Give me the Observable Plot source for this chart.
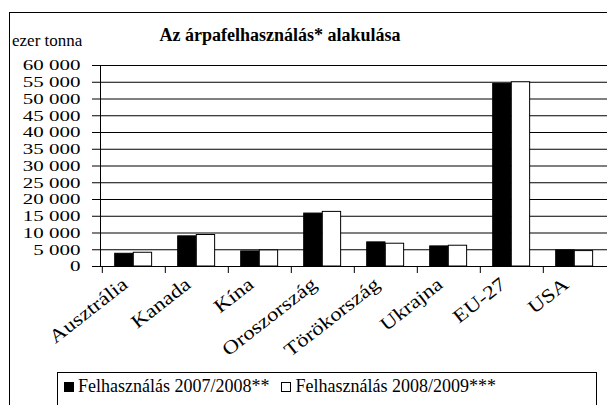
<!DOCTYPE html>
<html>
<head>
<meta charset="utf-8">
<script src="https://cdn.jsdelivr.net/npm/d3@7"></script>
<script src="https://cdn.jsdelivr.net/npm/@observablehq/plot@0.6"></script>
<style>
  html, body { margin: 0; padding: 0; background: #fff; }
  #wrap { position: relative; width: 607px; height: 405px; overflow: hidden; font-family: "Liberation Serif", "Times New Roman", "DejaVu Serif", serif; color: #000; }
  #border { position: absolute; left: 9px; top: 12px; width: 700px; height: 500px; border: 1px solid #000; box-sizing: border-box; }
  #title { position: absolute; left: 0; width: 560px; top: 25px; text-align: center; font-weight: bold; font-size: 18px; font-family: "Liberation Serif", "Times New Roman", serif; }
  #unit { position: absolute; left: 12px; top: 31px; font-size: 17px; font-family: "Liberation Serif", "Times New Roman", serif; }
  #chart { position: absolute; left: 0; top: 0; }
  #chart svg, #chart svg text { font-family: "Liberation Serif", "Times New Roman", serif !important; }
  #legend { position: absolute; left: 57px; top: 372px; width: 540px; height: 40px; border: 1px solid #000; box-sizing: border-box; display: flex; align-items: flex-start; padding: 3px 0 0 6px; font-size: 18px; white-space: nowrap; font-family: "Liberation Serif", "Times New Roman", serif; }
  .item { display: flex; align-items: center; margin-right: 12px; }
  .sw { width: 10px; height: 10px; border: 1px solid #000; box-sizing: border-box; margin-right: 4px; }
</style>
</head>
<body>
<div id="wrap">
  <div id="border"></div>
  <div id="chart"></div>
  <div id="title">Az árpafelhasználás* alakulása</div>
  <div id="unit">ezer tonna</div>
  <div id="legend"></div>
</div>
<script>
const countries = ["Ausztrália", "Kanada", "Kína", "Oroszország", "Törökország", "Ukrajna", "EU-27", "USA"];
const seriesNames = ["Felhasználás 2007/2008**", "Felhasználás 2008/2009***"];
const use2007 = [3800, 9000, 4500, 15800, 7200, 6000, 54500, 4800];
const use2008 = [4100, 9400, 4800, 16300, 6800, 6200, 55000, 4600];
const yTicks = [0, 5000, 10000, 15000, 20000, 25000, 30000, 35000, 40000, 45000, 50000, 55000, 60000];
const seriesFill = ["#000", "#fff"];

const rows = [];
countries.forEach((c, i) => {
  rows.push({country: c, series: seriesNames[0], value: use2007[i]});
  rows.push({country: c, series: seriesNames[1], value: use2008[i]});
});

const W = 607, H = 340, ML = 100, MR = 0, MT = 65, MB = 74;
const step = (W - ML - MR) / countries.length;
const fmt = d => d3.format(",")(d).replace(/,/g, " ");
const FONT = "Liberation Serif";

const chart = Plot.plot({
  width: W, height: H,
  marginLeft: ML, marginRight: MR, marginTop: MT, marginBottom: MB,
  style: {fontFamily: FONT, fontSize: "17px", color: "#000", background: "transparent", overflow: "visible"},
  x: {domain: countries, padding: 0, axis: null},
  y: {domain: [0, 60000], axis: null},
  marks: [
    Plot.ruleY(yTicks, {stroke: "#000", strokeWidth: 1}),
    Plot.frame({anchor: "left", stroke: "#000"}),
    Plot.ruleX(countries, {x: d => d, dx: -step / 2, insetTop: H - MT - MB, insetBottom: -7, stroke: "#000"}),
    Plot.axisY({ticks: yTicks, tickSize: 8, tickPadding: 12, tickFormat: fmt, fontSize: 15, fontFamily: FONT, stroke: "#000", label: null}),
    Plot.barY(rows.filter(d => d.series === seriesNames[0]), {x: "country", y: "value", fill: seriesFill[0], stroke: "#000", insetLeft: 12.7, insetRight: step - 31.3}),
    Plot.barY(rows.filter(d => d.series === seriesNames[1]), {x: "country", y: "value", fill: seriesFill[1], stroke: "#000", insetLeft: 31.3, insetRight: step - 50}),
    Plot.text(countries, {x: d => d, frameAnchor: "bottom", rotate: -38, textAnchor: "end", lineAnchor: "bottom", dx: -5, dy: 20, fontSize: 19, fontFamily: FONT, fill: "#000"})
  ]
});
document.getElementById("chart").appendChild(chart);

// widen axis texts horizontally, as in the reference picture
function widen(nodes, k) {
  nodes.forEach(t => {
    const L = t.getComputedTextLength();
    if (L > 0) {
      t.setAttribute("textLength", (L * k).toFixed(1));
      t.setAttribute("lengthAdjust", "spacingAndGlyphs");
    }
  });
}
const yTexts = Array.from(chart.querySelectorAll("g[aria-label] text")).filter(t => {
  const g = t.closest("g[aria-label]");
  return g && /y-axis/.test(g.getAttribute("aria-label"));
});
widen(yTexts, 1.4);
const xTexts = Array.from(chart.querySelectorAll("text")).filter(t => countries.includes(t.textContent));
widen(xTexts, 1.2);

const legend = document.getElementById("legend");
seriesNames.forEach((s, i) => {
  const item = document.createElement("div");
  item.className = "item";
  const sw = document.createElement("div");
  sw.className = "sw";
  sw.style.background = seriesFill[i];
  item.appendChild(sw);
  const t = document.createElement("span");
  t.textContent = s;
  item.appendChild(t);
  legend.appendChild(item);
});
</script>
</body>
</html>
